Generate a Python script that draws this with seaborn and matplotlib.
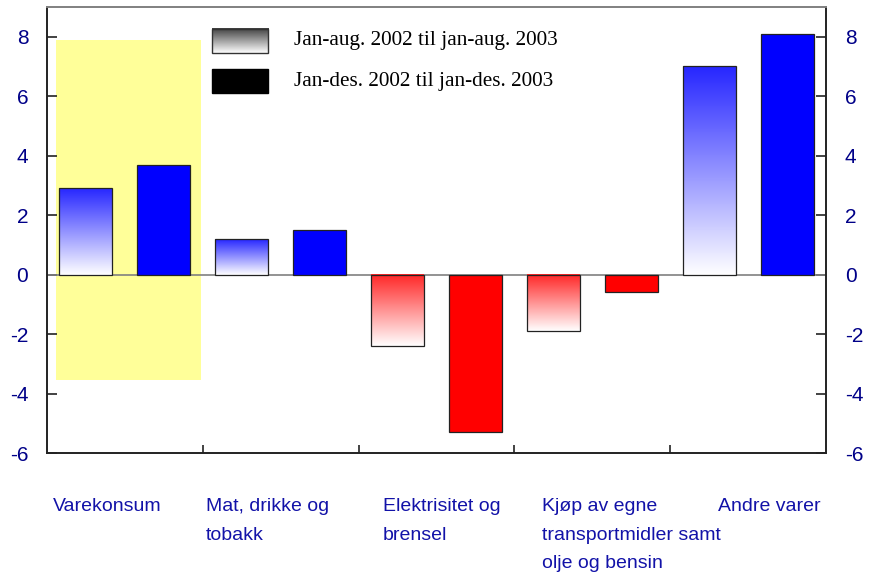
import numpy as np
import pandas as pd
import matplotlib
matplotlib.use("Agg")
import matplotlib.pyplot as plt
from matplotlib.patches import Rectangle
from matplotlib.colors import to_rgb
import seaborn as sns

# data
categories = ["Varekonsum", "Mat, drikke og\ntobakk", "Elektrisitet og\nbrensel",
              "Kjøp av egne\ntransportmidler samt\nolje og bensin", "Andre varer"]
series = ["Jan-aug. 2002 til jan-aug. 2003", "Jan-des. 2002 til jan-des. 2003"]
aug_values = [2.9, 1.2, -2.4, -1.9, 7.0]
des_values = [3.7, 1.5, -5.3, -0.6, 8.1]
yticks = [-6, -4, -2, 0, 2, 4, 6, 8]

df = pd.DataFrame({
    "kategori": categories * 2,
    "serie": [series[0]] * len(categories) + [series[1]] * len(categories),
    "verdi": aug_values + des_values,
})

sns.set_theme(style="white")
plt.rcParams["font.family"] = ["Liberation Sans", "DejaVu Sans"]
plt.rcParams["axes.unicode_minus"] = False

BLUE = "#0000ff"
RED = "#ff0000"
TXT = "#1212a8"

fig = plt.figure(figsize=(8.69, 5.77), dpi=100)
ax = fig.add_axes([0.0541, 0.2149, 0.8964, 0.7730])

sns.barplot(data=df, x="kategori", y="verdi", hue="serie", order=categories,
            hue_order=series, palette=["white", BLUE], width=1.0, gap=0.32,
            edgecolor="#222222", linewidth=0.9, errorbar=None, legend=False,
            zorder=3, ax=ax)

# gradient bars (first series) and sign-based colours
n = 256
t = np.linspace(0, 1, n)[:, None, None]
for bar in ax.containers[0]:
    x0, w = bar.get_x(), bar.get_width()
    y0, h = bar.get_y(), bar.get_height()
    lo, hi = min(y0, y0 + h), max(y0, y0 + h)
    base = np.array(to_rgb(BLUE if hi > 0 else RED))
    top = base + (1 - base) * 0.15
    grad = top * (1 - t) + np.ones(3) * t
    ax.imshow(grad, extent=[x0, x0 + w, lo, hi], origin="upper",
              aspect="auto", zorder=2.9, interpolation="bilinear")
    bar.set_facecolor("none")
for bar, v in zip(ax.containers[1], des_values):
    bar.set_facecolor(BLUE if v > 0 else RED)

# yellow highlight behind the first group
ax.add_patch(Rectangle((-0.44, -3.55), 0.93, 11.45, facecolor="#ffff99",
                       edgecolor="none", zorder=0))
ax.axhline(0, color="#808080", lw=1.2, zorder=2)

ax.set_xlim(-0.5, len(categories) - 0.5)
ax.set_ylim(-6, 9)
ax.set_yticks(yticks)
ax.set_xticks(np.arange(len(categories) - 1) + 0.5)
ax.set_xticklabels([])
ax.set_xlabel("")
ax.set_ylabel("")
ax.tick_params(axis="y", direction="in", length=7, width=1.2, color="#222222",
               left=True, right=True, labelleft=True, labelright=True,
               labelsize=15, labelcolor="#000088", pad=13.5)
ax.tick_params(axis="x", direction="in", length=6, width=1.2, color="#222222",
               bottom=True)

for side in ["left", "right", "bottom"]:
    ax.spines[side].set_color("#222222")
    ax.spines[side].set_linewidth(1.4)
ax.spines["top"].set_color("#808080")
ax.spines["top"].set_linewidth(1.4)

# category labels under the axis
label_x = [-0.461, 0.521, 1.657, 2.677, 3.807]
for x, lab in zip(label_x, categories):
    ax.text(x, -0.101, lab, transform=ax.get_xaxis_transform(), ha="left",
            va="top", fontsize=14, color=TXT, linespacing=1.9)

# legend drawn by hand
lg = np.linspace(0.25, 1, n)[:, None] * np.ones((1, 3))
ax.imshow(lg[:, None, :], extent=[0.2118, 0.2837, 0.897, 0.951], origin="upper",
          aspect="auto", transform=ax.transAxes, zorder=4)
ax.add_patch(Rectangle((0.2118, 0.897), 0.0719, 0.054, transform=ax.transAxes,
                       facecolor="none", edgecolor="#333333", lw=1, zorder=5))
ax.add_patch(Rectangle((0.2118, 0.807), 0.0719, 0.054, transform=ax.transAxes,
                       facecolor="black", edgecolor="black", lw=1, zorder=5))
for yy, lab in zip([0.924, 0.834], series):
    ax.text(0.317, yy, lab, transform=ax.transAxes, ha="left", va="center",
            fontsize=15.3, family=["Liberation Serif", "DejaVu Serif"], color="black")

ax.set_xlim(-0.5, len(categories) - 0.5)
ax.set_ylim(-6, 9)

fig.savefig("out.png", dpi=100)
